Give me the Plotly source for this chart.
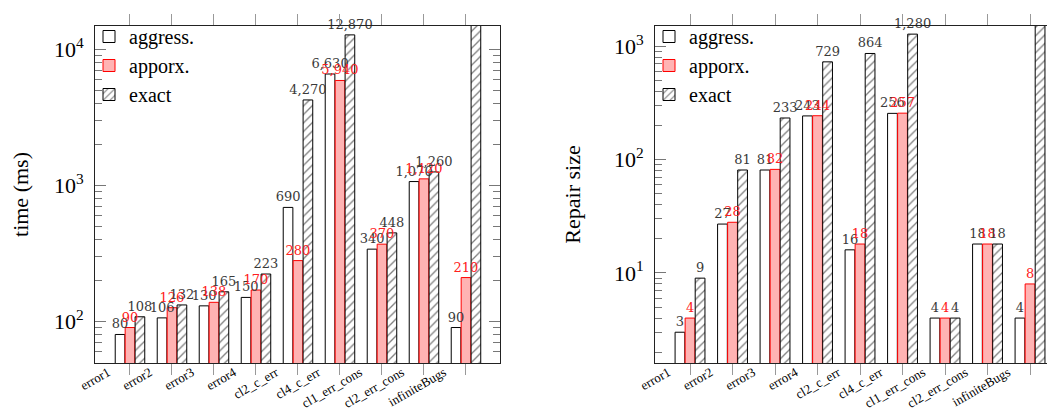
import plotly.graph_objects as go

categories = ["error1", "error2", "error3", "error4", "cl2_c_err", "cl4_c_err",
              "cl1_err_cons", "cl2_err_cons", "infiniteBugs"]

series_names = ["aggress.", "apporx.", "exact"]

time_aggress = [80, 106, 130, 150, 690, 6630, 340, 1070, 90]
time_apporx = [90, 126, 138, 170, 280, 5940, 370, 1120, 210]
time_exact = [108, 132, 165, 223, 4270, 12870, 448, 1260, 50000]

size_aggress = [3, 27, 81, 243, 16, 256, 4, 18, 4]
size_apporx = [4, 28, 82, 244, 18, 257, 4, 18, 8]
size_exact = [9, 81, 233, 729, 864, 1280, 4, 18, 5000]

W, H = 1055, 412
SERIF = "Liberation Serif"
LABEL_FONT = "DejaVu Serif"

styles = [
    dict(color="white", line=dict(color="black", width=1)),
    dict(color="#ffb3b3", line=dict(color="red", width=1)),
    dict(color="white", line=dict(color="black", width=1),
         pattern=dict(shape="/", fgcolor="black", bgcolor="white", size=6, solidity=0.22)),
]
text_colors = ["#3a3a3a", "#ff2020", "#3a3a3a"]
groups = ["a", "p", "e"]

fig = go.Figure()


def add_panel(xa, ya, leg, data):
    # bars first
    for name, vals, st, g in zip(series_names, data, styles, groups):
        fig.add_trace(go.Bar(
            x=categories, y=vals, name=name, xaxis=xa, yaxis=ya, legend=leg,
            marker=st, offsetgroup=g, hoverinfo="skip",
        ))
    # value labels drawn on top of all bars (same slots, invisible bars)
    for name, vals, tc, g in zip(series_names, data, text_colors, groups):
        fig.add_trace(go.Bar(
            x=categories, y=vals, name=name, xaxis=xa, yaxis=ya, legend=leg,
            showlegend=False, offsetgroup=g,
            marker=dict(color="rgba(0,0,0,0)", line=dict(width=0)),
            texttemplate="%{y:,.0f}", textposition="outside",
            outsidetextfont=dict(family=LABEL_FONT, size=13, color=tc),
            constraintext="none", cliponaxis=False, hoverinfo="skip",
        ))


add_panel("x", "y", "legend", [time_aggress, time_apporx, time_exact])
add_panel("x2", "y2", "legend2", [size_aggress, size_apporx, size_exact])

t_margin, b_margin = 18, 57
plot_h = H - t_margin - b_margin


def minor_vals(lo, hi):
    return [m * 10 ** k for k in range(lo, hi) for m in range(2, 10)]


xcommon = dict(
    type="category", showline=True, linecolor="#222", linewidth=1, mirror="ticks",
    ticks="outside", ticklen=11, tickcolor="#999", tickwidth=1,
    tickangle=-30, tickfont=dict(family=SERIF, size=13, color="black"),
    ticklabelshift=-22, ticklabelstandoff=-15,
    showgrid=False, zeroline=False,
)
ycommon = dict(
    type="log", showline=True, linecolor="#222", linewidth=1, mirror="ticks",
    ticks="inside", ticklen=11, tickcolor="#777", tickwidth=1,
    tickfont=dict(family=SERIF, size=22, color="black"),
    showgrid=False, zeroline=False, ticklabelstandoff=6,
)
legcommon = dict(
    xref="paper", yref="paper", xanchor="left", yanchor="top",
    bgcolor="rgba(0,0,0,0)", font=dict(family=SERIF, size=20, color="black"),
    tracegroupgap=0, itemwidth=30,
)

fig.update_layout(
    width=W, height=H,
    margin=dict(l=0, r=0, t=t_margin, b=b_margin, autoexpand=False),
    paper_bgcolor="white", plot_bgcolor="white",
    barmode="group", bargap=0.29, bargroupgap=0.03,
    xaxis=dict(xcommon, domain=[87 / W, 492 / W], range=[-0.833, 8.81], anchor="y"),
    yaxis=dict(ycommon, domain=[0, 1], anchor="x", range=[1.693, 4.175],
               tickvals=[100, 1000, 10000],
               ticktext=["10<sup>2</sup>", "10<sup>3</sup>", "10<sup>4</sup>"],
               minor=dict(ticks="inside", ticklen=7, tickcolor="#777",
                          tickvals=minor_vals(1, 5)),
               title=dict(text="time (ms)", font=dict(family=SERIF, size=22, color="black"),
                          standoff=33)),
    xaxis2=dict(xcommon, domain=[647 / W, 1.0], range=[-0.824, 8.776], anchor="y2"),
    yaxis2=dict(ycommon, domain=[0, 1], anchor="x2", range=[0.2056, 3.179],
                tickvals=[10, 100, 1000],
                ticktext=["10<sup>1</sup>", "10<sup>2</sup>", "10<sup>3</sup>"],
                minor=dict(ticks="inside", ticklen=7, tickcolor="#777",
                           tickvals=minor_vals(0, 4)),
                title=dict(text="Repair size", font=dict(family=SERIF, size=22, color="black"),
                           standoff=27)),
    legend=dict(legcommon, x=81 / W, y=1 + 9 / plot_h),
    legend2=dict(legcommon, x=641 / W, y=1 + 9 / plot_h),
)

fig.write_html("out.html")
